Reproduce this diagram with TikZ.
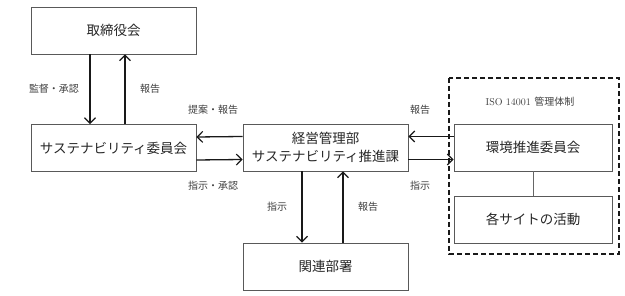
\documentclass[tikz,border=0pt]{standalone}
\usepackage{fontspec}
\newfontfamily\cjk{Noto Sans CJK JP}
\usetikzlibrary{arrows.meta}
\begin{document}
\begin{tikzpicture}[x=1pt,y=-1pt,
  box/.style={draw=black!65,line width=0.8pt,minimum width=165pt,minimum height=47pt,inner sep=0pt,font=\cjk\fontsize{13.5}{18}\selectfont,text=black!85,align=center},
  rbox/.style={box,minimum width=158pt},
  lab/.style={font=\cjk\fontsize{10}{12}\selectfont,text=black!75,inner sep=0pt},
  arr/.style={-{Straight Barb[length=5.5pt,width=11pt,line width=1.2pt]},line width=1.3pt,black!90}]
\useasboundingbox (0,0) rectangle (625,296);
\node[box] (board) at (113.5,30.5) {取締役会};
\node[box] (sc) at (113.5,148) {サステナビリティ委員会};
\node[box] (mid) at (325.5,147.5) {経営管理部\\サステナビリティ推進課};
\node[box] (rel) at (325.5,266.5) {関連部署};
\node[rbox] (env) at (533,147.5) {環境推進委員会};
\node[rbox] (site) at (533,219.5) {各サイトの活動};
\draw[black!90,line width=1.2pt,dash pattern=on 5pt off 3pt] (449,78) rectangle (619,254);
\node[inner sep=0pt,font=\fontsize{10}{12}\selectfont,text=black!75] (iso) at (530,102) {ISO 14001 {\cjk 管理体制}};
\draw[black!60,line width=0.8pt] (env.south) -- (site.north);
% board <-> sc
\draw[arr] ([xshift=-23.5pt]board.south) -- ([xshift=-23.5pt]sc.north);
\draw[arr] ([xshift=11.5pt]sc.north) -- ([xshift=11.5pt]board.south);
\node[lab] (l1) at (54,89) {監督・承認};
\node[lab] (l2) at (150,89) {報告};
% sc <-> mid
\draw[arr] ([yshift=11pt]mid.west) -- ([yshift=11pt]sc.east);
\draw[arr] ([yshift=-12pt]sc.east) -- ([yshift=-12pt]mid.west);
\node[lab] (l3) at (213,110) {提案・報告};
\node[lab] (l4) at (213,186) {指示・承認};
% mid <-> rel
\draw[arr] ([xshift=-23.5pt]mid.south) -- ([xshift=-23.5pt]rel.north);
\draw[arr] ([xshift=17.5pt]rel.north) -- ([xshift=17.5pt]mid.south);
\node[lab] (l5) at (277,207) {指示};
\node[lab] (l6) at (368,207) {報告};
% mid <-> env
\draw[arr] ([yshift=11pt]env.west) -- ([yshift=11pt]mid.east);
\draw[arr] ([yshift=-12pt]mid.east) -- ([yshift=-12pt]env.west);
\node[lab] (l7) at (420,110) {報告};
\node[lab] (l8) at (420,186) {指示};
\end{tikzpicture}
\end{document}
